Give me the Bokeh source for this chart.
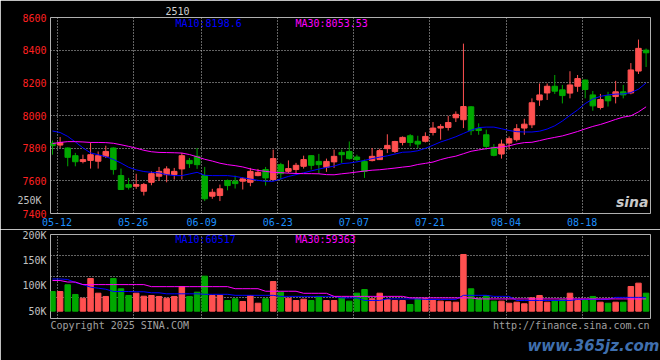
from bokeh.plotting import figure
from bokeh.layouts import column
from bokeh.models import Range1d, FixedTicker, Label, ColumnDataSource, LinearAxis
from bokeh.embed import file_html
from bokeh.resources import INLINE

# ---------------- data ----------------
tick_idx = [1, 11, 20, 30, 40, 50, 60, 70]
tick_labels = ["05-12", "05-26", "06-09", "06-23", "07-07", "07-21", "08-04", "08-18"]

opens = [7831, 7819, 7801, 7754, 7718, 7725, 7720, 7750, 7801, 7632,
         7577, 7567, 7536, 7591, 7628, 7638, 7638, 7673, 7725, 7750,
         7632, 7506, 7510, 7602, 7598, 7598, 7591, 7632, 7669, 7608,
         7699, 7658, 7669, 7689, 7754, 7719, 7683, 7716, 7774, 7780,
         7746, 7719, 7724, 7730, 7797, 7780, 7835, 7876, 7842, 7842,
         7896, 7923, 7927, 7986, 7974, 8053, 7919, 7882, 7805, 7764,
         7831, 7852, 7923, 7943, 8095, 8138, 8179, 8157, 8137, 8179,
         8217, 8126, 8049, 8120, 8116, 8145, 8138, 8272, 8400]
highs = [7847, 7868, 7805, 7771, 7760, 7835, 7780, 7815, 7805, 7675,
         7618, 7643, 7587, 7658, 7685, 7689, 7679, 7771, 7740, 7801,
         7685, 7551, 7577, 7608, 7632, 7622, 7679, 7673, 7685, 7791,
         7710, 7725, 7710, 7754, 7756, 7765, 7736, 7791, 7791, 7841,
         7760, 7730, 7801, 7797, 7885, 7845, 7872, 7886, 7876, 7897,
         7960, 7947, 7998, 8025, 8440, 8057, 7952, 7913, 7825, 7852,
         7872, 7947, 7980, 8105, 8196, 8196, 8248, 8187, 8271, 8248,
         8220, 8150, 8132, 8145, 8212, 8187, 8321, 8465, 8410]
lows = [7760, 7801, 7689, 7689, 7707, 7675, 7675, 7740, 7638, 7545,
        7547, 7551, 7510, 7573, 7600, 7591, 7608, 7608, 7679, 7673,
        7476, 7490, 7476, 7542, 7553, 7547, 7567, 7628, 7571, 7605,
        7608, 7648, 7643, 7675, 7669, 7643, 7655, 7679, 7710, 7730,
        7719, 7618, 7719, 7728, 7770, 7770, 7817, 7811, 7801, 7835,
        7878, 7852, 7908, 7960, 7923, 7880, 7882, 7791, 7750, 7736,
        7791, 7841, 7882, 7923, 8059, 8095, 8132, 8074, 8105, 8145,
        8105, 8029, 8037, 8055, 8074, 8105, 8130, 8254, 8297]
closes = [7815, 7835, 7744, 7717, 7730, 7760, 7754, 7780, 7669, 7547,
          7561, 7577, 7577, 7644, 7658, 7673, 7658, 7754, 7705, 7699,
          7490, 7530, 7551, 7571, 7583, 7612, 7658, 7652, 7618, 7736,
          7644, 7675, 7695, 7730, 7695, 7699, 7719, 7750, 7760, 7736,
          7730, 7658, 7750, 7785, 7817, 7841, 7866, 7835, 7825, 7872,
          7923, 7933, 7957, 8007, 8055, 7907, 7908, 7811, 7756, 7825,
          7858, 7919, 7947, 8078, 8126, 8179, 8149, 8122, 8187, 8226,
          8159, 8059, 8098, 8090, 8145, 8126, 8279, 8411, 8384]
ma10 = [7905, 7896, 7872, 7838, 7802, 7771, 7760, 7748, 7731, 7709,
        7683, 7667, 7657, 7652, 7649, 7638, 7632, 7632, 7642, 7652,
        7634, 7632, 7632, 7632, 7627, 7619, 7611, 7603, 7597, 7597,
        7612, 7627, 7638, 7649, 7661, 7672, 7682, 7690, 7705, 7709,
        7716, 7725, 7736, 7745, 7753, 7764, 7775, 7777, 7784, 7799,
        7818, 7838, 7853, 7870, 7890, 7910, 7926, 7929, 7929, 7919,
        7908, 7901, 7899, 7899, 7904, 7917, 7937, 7966, 8001, 8034,
        8073, 8101, 8117, 8126, 8131, 8132, 8140, 8161, 8199]
ma30 = [7828, 7835, 7840, 7840, 7838, 7835, 7835, 7834, 7830, 7821,
        7811, 7800, 7787, 7778, 7774, 7773, 7772, 7770, 7761, 7747,
        7732, 7721, 7708, 7699, 7693, 7685, 7673, 7664, 7658, 7652,
        7650, 7647, 7645, 7644, 7644, 7643, 7638, 7637, 7643, 7648,
        7654, 7660, 7665, 7668, 7673, 7678, 7684, 7689, 7700, 7707,
        7715, 7730, 7742, 7751, 7766, 7781, 7789, 7797, 7803, 7808,
        7814, 7826, 7834, 7836, 7846, 7857, 7866, 7875, 7888, 7902,
        7918, 7933, 7945, 7960, 7976, 7990, 7998, 8022, 8053]
volumes = [88500, 88500, 101600, 82700, 75400, 114000, 85200, 78800, 114000, 93800,
           80700, 85200, 79300, 80700, 78800, 75400, 78800, 98300, 78800, 87200,
           118500, 80700, 80700, 70900, 74300, 69000, 80700, 65600, 74300, 108000,
           87200, 75400, 70900, 73500, 70900, 78800, 70900, 70900, 76200, 69600,
           85200, 92400, 74300, 85200, 72900, 70900, 70900, 63100, 74300, 74300,
           70900, 69600, 68400, 67600, 160900, 93800, 75400, 80700, 69600, 69600,
           65600, 67600, 64500, 76200, 80700, 67600, 70900, 72300, 85200, 70900,
           70900, 78800, 67600, 65600, 67600, 67600, 98300, 104800, 85200]
vma10 = [113000, 113000, 112000, 106000, 102000, 97000, 95000, 93000, 88500, 88500,
         88500, 88000, 88000, 86000, 86000, 84000, 84000, 84000, 84000, 84000,
         83000, 83000, 83000, 83000, 81000, 81000, 81000, 81000, 81000, 81000,
         79000, 79000, 79000, 79000, 79000, 79000, 79000, 79000, 76000, 76000,
         76000, 71000, 71000, 71000, 74000, 74000, 74000, 74000, 74000, 73000,
         73000, 73000, 73000, 73000, 81000, 81000, 81000, 81000, 79000, 79000,
         79000, 71000, 71000, 71000, 71000, 71000, 71000, 71000, 71000, 73000,
         73000, 73000, 73000, 73000, 77000, 77000, 77000, 77000, 77000]
vma30 = [110000, 110000, 107000, 107000, 102000, 102000, 102000, 102000, 102000, 102000,
         102000, 102000, 102000, 98000, 98000, 98000, 98000, 98000, 98000, 98000,
         98000, 98000, 98000, 98000, 94000, 94000, 94000, 94000, 89000, 89000,
         89000, 89000, 89000, 85000, 85000, 85000, 85000, 79000, 79000, 79000,
         79000, 79000, 79000, 79000, 79000, 79000, 79000, 76000, 76000, 76000,
         76000, 76000, 76000, 76000, 76000, 76000, 74000, 74000, 74000, 74000,
         74000, 74000, 74000, 74000, 74000, 74000, 74000, 74000, 74000, 74000,
         74000, 74000, 74000, 74000, 74000, 74000, 74000, 74000, 74000]
price_ticks = [7400, 7600, 7800, 8000, 8200, 8400, 8600]
vol_ticks = [50000, 100000, 150000, 200000]
vol_tick_labels = ["50K", "100K", "150K", "200K"]
vol_overflow_tick = 250000
vol_overflow_label = "250K"
title_text = "2510"
ma_price_texts = ["MA10:8198.6", "MA30:8053.53"]
ma_vol_texts = ["MA10:60517", "MA30:59363"]
footer_texts = ["Copyright 2025 SINA.COM", "http://finance.sina.com.cn"]
watermark_text = "www.365jz.com"
logo_text = "sina"

# ---------------- style / geometry ----------------
FONT = "DejaVu Sans Mono"
CHAR_W = 6.02             # px per char of FONT at 10px
RED = "#ff5050"
GREEN = "#00a800"
BLUE = "#0000ff"
MAG = "#ff00ff"
GRID = "#c8c8c8"
FRAME = "#b0b0b0"
GRAY = "#c0c0c0"
FOOT = "#a0a0a0"
DATE_BLUE = "#1e90ff"

W = 660
FL, FR = 50, 650          # frame left/right (px)
PT, PB = 17, 213          # price frame top/bottom
P_H = 229                 # price canvas height
VT, VB = 234, 318         # volume frame top/bottom
V_H = 131                 # volume canvas height
SPX = 7.61                # px per candle
SHIFT = 0.4               # candle centre sits right of its date gridline
X0 = SHIFT + (FL - 52) / SPX
X1 = X0 + (FR - FL) / SPX
P_LO, P_HI = 7400, 8600
V_HI = 200000
V_PER_PX = 1956
V_LO = V_HI - (VB - VT) * V_PER_PX
V_BASE = 50000
Y_STANDOFF = 4

def xpx(px):
    return X0 + (px - FL) / SPX

def ypx_price(py):
    return P_HI - (py - PT) / (PB - PT) * (P_HI - P_LO)

def ypx_vol(py):
    return V_HI - (py - VT) * V_PER_PX

N = len(closes)
xs = [i + SHIFT for i in range(N)]
cols = [RED if c >= o else GREEN for o, c in zip(opens, closes)]
tops = [max(o, c) for o, c in zip(opens, closes)]
bots = [min(o, c) for o, c in zip(opens, closes)]
src = ColumnDataSource(dict(x=xs, h=highs, l=lows, top=tops, bot=bots, col=cols,
                            vol=volumes))

def style_axis(ax, color, size="10px", standoff=4, font=FONT, fstyle="normal"):
    ax.axis_line_color = None
    ax.major_tick_line_color = None
    ax.minor_tick_line_color = None
    ax.major_tick_out = 0
    ax.major_tick_in = 0
    ax.major_label_text_font = font
    ax.major_label_text_font_size = size
    ax.major_label_text_font_style = fstyle
    ax.major_label_text_color = color
    ax.major_label_standoff = standoff

def style(p):
    p.background_fill_color = "black"
    p.border_fill_color = "black"
    p.outline_line_color = FRAME
    p.outline_line_width = 1
    p.xgrid.ticker = FixedTicker(ticks=tick_idx)
    for g in (p.xgrid, p.ygrid):
        g.grid_line_color = GRID
        g.grid_line_dash = "1 2"
        g.grid_line_width = 1

def add_label(p, x, y, text, color, size="10px", align="left", style_="normal", font=FONT):
    p.add_layout(Label(x=x, y=y, text=text, text_color=color, text_font=font,
                       text_font_size=size, text_align=align, text_baseline="middle",
                       text_font_style=style_))

# ---------------- price panel ----------------
p = figure(width=W, height=P_H, x_range=Range1d(X0, X1), y_range=Range1d(P_LO, P_HI),
           output_backend="svg", toolbar_location=None,
           min_border_left=FL, min_border_right=W - FR,
           min_border_top=PT, min_border_bottom=P_H - PB)
style(p)
p.title.text = title_text
p.title.align = "left"
p.title.offset = 165 - FL
p.title.standoff = 6
p.title.text_font = FONT
p.title.text_font_size = "10px"
p.title.text_font_style = "normal"
p.title.text_color = "#d0d0d0"
p.title.background_fill_color = None

p.ygrid.ticker = FixedTicker(ticks=price_ticks)
p.yaxis.ticker = FixedTicker(ticks=price_ticks)
style_axis(p.yaxis[0], "#ff2020", standoff=Y_STANDOFF)
p.xaxis.ticker = FixedTicker(ticks=tick_idx)
p.xaxis.major_label_overrides = {t: s for t, s in zip(tick_idx, tick_labels)}
style_axis(p.xaxis[0], DATE_BLUE)

# overflow label of the volume scale in the price panel's left margin:
# an outer left axis pulled back (negative standoff) onto the price-label column
inner_w = Y_STANDOFF + 4 * CHAR_W
p.extra_y_ranges = {"vlab": Range1d(vol_overflow_tick - (PB - 200) * V_PER_PX,
                                    vol_overflow_tick + (200 - PT) * V_PER_PX)}
ax250 = LinearAxis(y_range_name="vlab", ticker=FixedTicker(ticks=[vol_overflow_tick]),
                   major_label_overrides={vol_overflow_tick: vol_overflow_label})
style_axis(ax250, GRAY, standoff=-int(round(inner_w - Y_STANDOFF)) + 2)
p.add_layout(ax250, "left")

p.segment(x0="x", y0="l", x1="x", y1="h", line_color="col", line_width=1, source=src)
p.vbar(x="x", width=0.72, top="top", bottom="bot", fill_color="col", line_color="col",
       line_width=1, source=src)
p.line(xs, ma10, line_color=BLUE, line_width=1)
p.line(xs, ma30, line_color=MAG, line_width=1)

add_label(p, xpx(175), ypx_price(23), ma_price_texts[0], BLUE)
add_label(p, xpx(295), ypx_price(23), ma_price_texts[1], MAG)
add_label(p, xpx(648), ypx_price(201), logo_text, "#c8c8c8", size="14px",
          align="right", style_="bold italic", font="DejaVu Sans")

# ---------------- volume panel ----------------
v = figure(width=W, height=V_H, x_range=p.x_range, y_range=Range1d(V_LO, V_HI),
           output_backend="svg", toolbar_location=None,
           min_border_left=FL, min_border_right=W - FR,
           min_border_top=VT - P_H, min_border_bottom=P_H + V_H - VB)
style(v)
v.ygrid.ticker = FixedTicker(ticks=[V_LO + k * (V_HI - V_LO) / 4 for k in (1, 2, 3)])
v.yaxis.ticker = FixedTicker(ticks=vol_ticks)
v.yaxis.major_label_overrides = {t: s for t, s in zip(vol_ticks, vol_tick_labels)}
style_axis(v.yaxis[0], GRAY, standoff=Y_STANDOFF)

# footer texts carried by the bottom axis (centred under their spans)
foot_ticks = [xpx(50 + len(footer_texts[0]) * CHAR_W / 2),
              xpx(649 - len(footer_texts[1]) * CHAR_W / 2)]
v.xaxis.ticker = FixedTicker(ticks=foot_ticks)
v.xaxis.major_label_overrides = {t: s for t, s in zip(foot_ticks, footer_texts)}
style_axis(v.xaxis[0], FOOT, standoff=1)

wm_tick = xpx(595)
axwm = LinearAxis(ticker=FixedTicker(ticks=[wm_tick]),
                  major_label_overrides={wm_tick: watermark_text})
style_axis(axwm, "#3f6fae", size="15px", standoff=3, font="DejaVu Sans", fstyle="bold italic")
v.add_layout(axwm, "below")

v.vbar(x="x", width=0.72, top="vol", bottom=V_BASE, fill_color="col", line_color="col",
       source=src)
v.line(xs, vma10, line_color=BLUE, line_width=1)
v.line(xs, vma30, line_color=MAG, line_width=1)

add_label(v, xpx(175), ypx_vol(239), ma_vol_texts[0], BLUE)
add_label(v, xpx(295), ypx_vol(239), ma_vol_texts[1], MAG)

layout = column(p, v, spacing=0)
open("out.html", "w").write(file_html(layout, INLINE))
